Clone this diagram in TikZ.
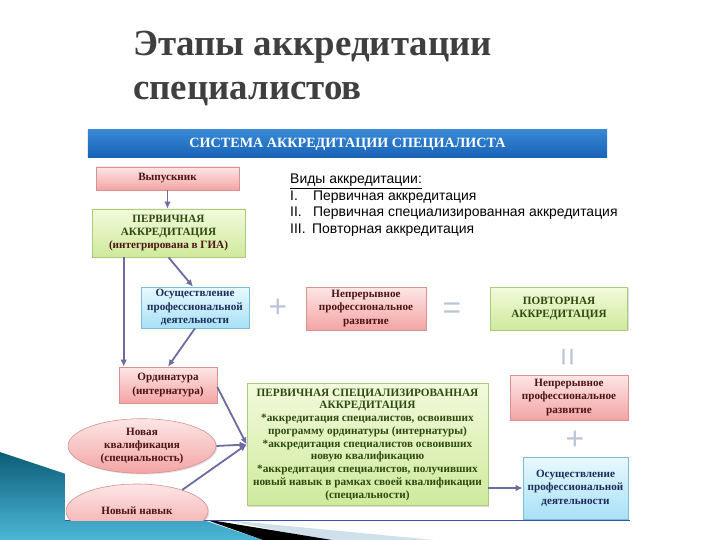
\documentclass[tikz,border=0pt]{standalone}
\usepackage{fontspec}
\setmainfont{Liberation Serif}
\setsansfont{Liberation Sans}
\usetikzlibrary{arrows, arrows.meta, shapes.geometric, shadows, calc, positioning}

\definecolor{pinkTop}{HTML}{FDE6E6}
\definecolor{pinkBot}{HTML}{F3A4A4}
\definecolor{pinkLine}{HTML}{D99090}
\definecolor{greenTop}{HTML}{F2FADC}
\definecolor{greenBot}{HTML}{CFEA9C}
\definecolor{greenLine}{HTML}{AACB7C}
\definecolor{blueTop}{HTML}{E8F9FE}
\definecolor{blueBot}{HTML}{A8E1F6}
\definecolor{blueLine}{HTML}{7ABDD9}
\definecolor{maroonText}{HTML}{4C1414}
\definecolor{greenText}{HTML}{2F4A10}
\definecolor{navyText}{HTML}{1D2D5A}
\definecolor{arrowGray}{HTML}{6C6CA0}
\definecolor{headTop}{HTML}{3888D6}
\definecolor{headBot}{HTML}{1762B6}
\definecolor{signFill}{HTML}{BAC6D6}
\definecolor{titleGray}{HTML}{3F3F3F}
\definecolor{tealDark}{HTML}{0B5E78}
\definecolor{tealLight}{HTML}{4DB8D8}
\definecolor{paleWedge}{HTML}{CFE0EA}
\definecolor{lineBlue}{HTML}{3552A8}

\tikzset{
    boxBase/.style={draw, line width=0.6bp, align=center, inner sep=1bp,
        font=\fontsize{11.2}{13.5}\selectfont\bfseries,
        drop shadow={opacity=0.25, shadow xshift=1.2bp, shadow yshift=-1.2bp}},
    pinkBox/.style={boxBase, draw=pinkLine, top color=pinkTop, bottom color=pinkBot, text=maroonText},
    greenBox/.style={boxBase, draw=greenLine, top color=greenTop, bottom color=greenBot, text=greenText},
    blueBox/.style={boxBase, draw=blueLine, top color=blueTop, bottom color=blueBot, text=navyText},
    pinkOval/.style={pinkBox, ellipse},
    flowArrow/.style={->, >={Latex[length=7bp, width=6.5bp]}, line width=1.8bp, draw=arrowGray},
    signNode/.style={text=signFill, font=\fontsize{32}{32}\selectfont\sffamily, inner sep=0pt},
    listText/.style={font=\fontsize{14}{16}\selectfont\sffamily, inner sep=0pt, anchor=base west},
}

\begin{document}
\begin{tikzpicture}[x=1bp, y=-1bp]
    \useasboundingbox (0,0) rectangle (720,540);

    % slide title
    \node[anchor=base west, inner sep=0pt, text=titleGray, font=\fontsize{37}{44}\selectfont\bfseries] (titleA) at (133,56) {Этапы аккредитации};
    \node[anchor=base west, inner sep=0pt, text=titleGray, font=\fontsize{37}{44}\selectfont\bfseries] (titleB) at (133,100) {специалистов};

    % bottom corner decoration
    \shade[top color=tealDark, bottom color=tealLight] (0,452) -- (266,541) -- (0,541) -- cycle;
    \fill[paleWedge] (225,520) -- (445,541) -- (330,541) -- cycle;
    \fill[black] (204,519) -- (338,541) -- (266,541) -- cycle;

    % picture area
    \fill[white] (65,125) rectangle (632,520);
    \draw[lineBlue, line width=1.5bp] (65,520.5) -- (630,520.5);

    \node[draw=none, top color=headTop, bottom color=headBot, minimum width=519bp, minimum height=28bp,
        text=white, font=\fontsize{14.2}{16}\selectfont\bfseries] (head) at (347.5,144) {СИСТЕМА АККРЕДИТАЦИИ СПЕЦИАЛИСТА};

    % kinds of accreditation
    \node[listText] (kindHead) at (290,184) {\underline{Виды аккредитации:}};
    \node[listText] (numA) at (290,201) {I.};
    \node[listText] (kindA) at (313,201) {Первичная аккредитация};
    \node[listText] (numB) at (290,217) {II.};
    \node[listText] (kindB) at (313,217) {Первичная специализированная аккредитация};
    \node[listText] (numC) at (290,234) {III.};
    \node[listText] (kindC) at (312,234) {Повторная аккредитация};

    % boxes
    \node[pinkBox, minimum width=143bp, minimum height=23bp] (grad) at (167.5,178.5) {Выпускник};
    \node[greenBox, minimum width=153bp, minimum height=48bp] (prim) at (168.5,233) {ПЕРВИЧНАЯ\\АККРЕДИТАЦИЯ\\\textcolor{maroonText}{(интегрирована в ГИА)}};
    \node[blueBox, minimum width=108bp, minimum height=41bp] (workL) at (195,307.5) {Осуществление\\профессиональной\\деятельности};
    \node[pinkBox, minimum width=120bp, minimum height=43bp] (nmoL) at (366,308.5) {Непрерывное\\профессиональное\\развитие};
    \node[greenBox, minimum width=137bp, minimum height=43bp] (again) at (559,308.5) {ПОВТОРНАЯ\\АККРЕДИТАЦИЯ};
    \node[pinkBox, minimum width=118bp, minimum height=45bp] (nmoR) at (569,397.5) {Непрерывное\\профессиональное\\развитие};
    \node[blueBox, minimum width=105bp, minimum height=62bp] (workR) at (575.5,488) {Осуществление\\профессиональной\\деятельности};
    \node[pinkBox, minimum width=98bp, minimum height=36bp] (resid) at (168,385) {Ординатура\\(интернатура)};
    \node[greenBox, minimum width=241bp, minimum height=122bp, font=\fontsize{11.3}{12.8}\selectfont\bfseries] (spec) at (367.5,444.5) {ПЕРВИЧНАЯ СПЕЦИАЛИЗИРОВАННАЯ\\АККРЕДИТАЦИЯ\\*аккредитация специалистов, освоивших\\программу ординатуры (интернатуры)\\*аккредитация специалистов освоивших\\новую квалификацию\\*аккредитация специалистов, получивших\\новый навык в рамках своей квалификации\\(специальности)};
    \node[pinkOval, minimum width=148bp, minimum height=49bp] (qual) at (142,446) {Новая\\квалификация\\(специальность)};
    \begin{scope}
        \clip (55,470) rectangle (240,520);
        \node[pinkOval, minimum width=142bp, minimum height=54bp] (skill) at (137,511) {Новый навык};
    \end{scope}

    % signs
    \node[signNode] (plusA) at (278,308) {+};
    \node[signNode] (eqA) at (452,311) {=};
    \node[signNode, rotate=90] (eqB) at (571,357) {=};
    \node[signNode] (plusB) at (575,440) {+};

    % connectors
    \draw[flowArrow] (grad.south) -- (grad.south |- prim.north);
    \draw[flowArrow] ([xshift=32bp]prim.south west) -- ([xshift=5bp]resid.north west);
    \draw[flowArrow] (prim.south) -- ([xshift=-2bp]workL.north);
    \draw[flowArrow] (workL.south) -- (resid.north);
    \draw[flowArrow] ([yshift=-2bp]resid.east) -- (spec.west);
    \draw[flowArrow] (qual.east) -- (spec.west);
    \draw[flowArrow] (skill.25) -- (spec.west);
    \draw[flowArrow] (spec.east |- workR.west) -- (workR.west);

\end{tikzpicture}
\end{document}
